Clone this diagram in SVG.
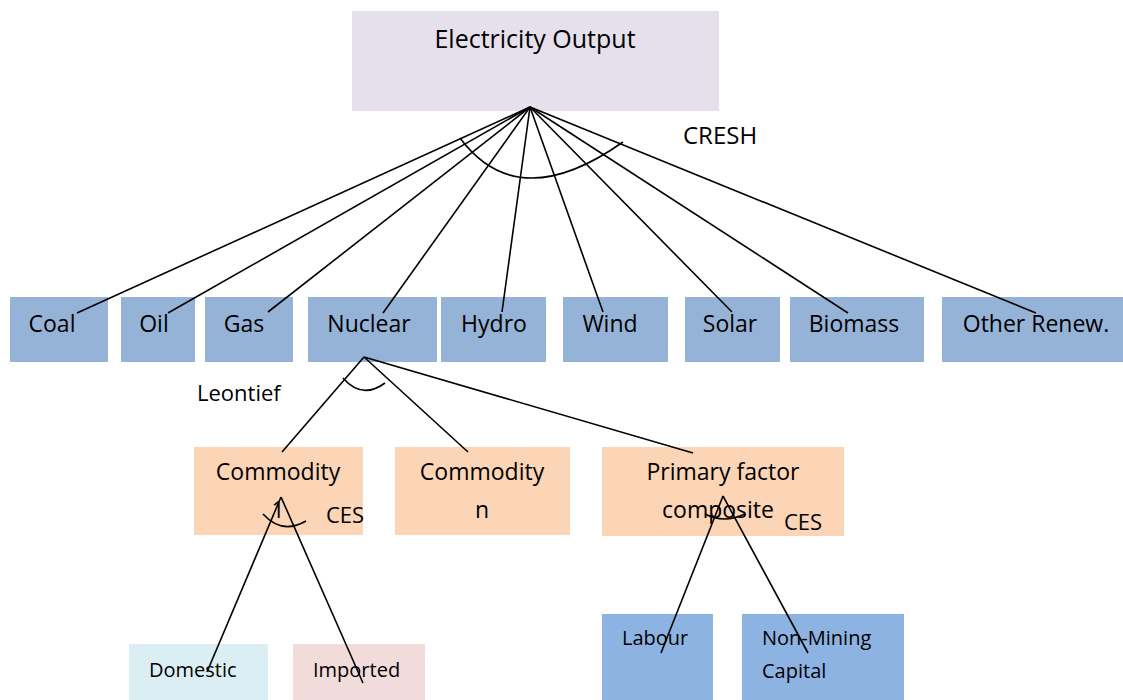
<svg xmlns="http://www.w3.org/2000/svg" width="1123" height="700" viewBox="0 0 1123 700">
<style>
text{font-family:"Open Sans","Liberation Sans",sans-serif;fill:#000}
.m{font-size:23px;text-anchor:middle}
.s{font-size:20px}
.lbl{font-size:22px}
.fuel{fill:#95b3d7}
.peach{fill:#fbd5b5}
.fac{fill:#8db3e2}
.c line,.c path{stroke:#000;stroke-width:1.6;fill:none}
</style>
<rect width="1123" height="700" fill="#fff"/>
<g id="electricity-output"><rect x="352" y="11" width="367" height="100" fill="#e5e0ec"/><text x="535" y="48" style="font-size:25px;text-anchor:middle">Electricity Output</text></g>
<g id="coal"><rect class="fuel" x="10" y="297" width="98" height="65"/><text class="m" x="52" y="332">Coal</text></g>
<g id="oil"><rect class="fuel" x="121" y="297" width="74" height="65"/><text class="m" x="154" y="332">Oil</text></g>
<g id="gas"><rect class="fuel" x="205" y="297" width="88" height="65"/><text class="m" x="244" y="332">Gas</text></g>
<g id="nuclear"><rect class="fuel" x="308" y="297" width="129" height="65"/><text class="m" x="369" y="332">Nuclear</text></g>
<g id="hydro"><rect class="fuel" x="441" y="297" width="105" height="65"/><text class="m" x="494" y="332">Hydro</text></g>
<g id="wind"><rect class="fuel" x="563" y="297" width="105" height="65"/><text class="m" x="610" y="332">Wind</text></g>
<g id="solar"><rect class="fuel" x="685" y="297" width="95" height="65"/><text class="m" x="730" y="332">Solar</text></g>
<g id="biomass"><rect class="fuel" x="790" y="297" width="134" height="65"/><text class="m" x="854" y="332">Biomass</text></g>
<g id="other-renew"><rect class="fuel" x="942" y="297" width="181" height="65"/><text class="m" x="1036" y="332">Other Renew.</text></g>
<g id="commodity-1"><rect class="peach" x="194" y="447" width="169" height="88"/><text class="m" x="278" y="480">Commodity</text><text class="m" x="278" y="518">1</text></g>
<g id="commodity-n"><rect class="peach" x="395" y="447" width="175" height="88"/><text class="m" x="482" y="480">Commodity</text><text class="m" x="482" y="518">n</text></g>
<g id="primary-factor"><rect class="peach" x="602" y="447" width="242" height="89"/><text class="m" x="723" y="480">Primary factor</text><text class="m" x="718" y="518">composite</text></g>
<g id="domestic"><rect x="129" y="644" width="139" height="56" fill="#dbeef4"/><text class="s" x="149" y="677">Domestic</text></g>
<g id="imported"><rect x="293" y="644" width="132" height="56" fill="#f2dcdb"/><text class="s" x="313" y="677">Imported</text></g>
<g id="labour"><rect class="fac" x="602" y="614" width="111" height="86"/><text class="s" x="622" y="645">Labour</text></g>
<g id="non-mining-capital"><rect class="fac" x="742" y="614" width="162" height="86"/><text class="s" x="762" y="645">Non-Mining</text><text class="s" x="762" y="678">Capital</text></g>
<g id="connectors" class="c">
<line x1="530" y1="107" x2="77" y2="313"/>
<line x1="530" y1="107" x2="168" y2="313"/>
<line x1="530" y1="107" x2="268" y2="312"/>
<line x1="530" y1="107" x2="383" y2="313"/>
<line x1="530" y1="107" x2="502" y2="312"/>
<line x1="530" y1="107" x2="603" y2="312"/>
<line x1="530" y1="107" x2="732" y2="312"/>
<line x1="530" y1="107" x2="848" y2="313"/>
<line x1="530" y1="107" x2="1036" y2="313"/>
<path d="M460,138 Q518,216 623,142"/>
<line x1="364" y1="357" x2="282" y2="452"/>
<line x1="364" y1="357" x2="468" y2="452"/>
<line x1="364" y1="357" x2="693" y2="453"/>
<path d="M343,378 Q362,400 385,383"/>
<line x1="281" y1="497" x2="207" y2="672"/>
<line x1="281" y1="497" x2="363" y2="683"/>
<path d="M263,514 Q282,535 306,521"/>
<line x1="723" y1="496" x2="661" y2="653"/>
<line x1="723" y1="496" x2="808" y2="653"/>
<path d="M705,514 Q724,524 745,514"/>
</g>
<g id="labels">
<text x="683" y="144" style="font-size:24px">CRESH</text>
<text class="lbl" x="197" y="401">Leontief</text>
<text class="lbl" x="326" y="523">CES</text>
<text class="lbl" x="784" y="530">CES</text>
</g>
</svg>
